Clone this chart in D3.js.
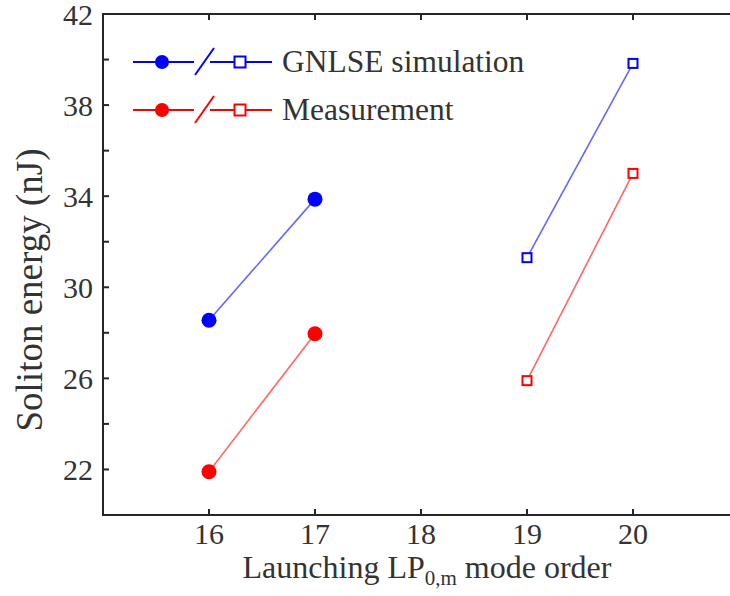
<!DOCTYPE html>
<html>
<head>
<meta charset="utf-8">
<script src="https://cdn.jsdelivr.net/npm/d3@7"></script>
</head>
<body style="margin:0; font-family: 'Times New Roman';">
<svg id="fig" width="730" height="596" style="font-family: 'Times New Roman';"></svg>
<script>
// data
var simCircleX = [16, 17];
var simCircleY = [28.55, 33.87];
var measCircleX = [16, 17];
var measCircleY = [21.9, 27.96];
var simSquareX = [19, 20];
var simSquareY = [31.3, 39.83];
var measSquareX = [19, 20];
var measSquareY = [25.9, 35.0];
var xTicks = [16, 17, 18, 19, 20];
var yTicks = [22, 24, 26, 28, 30, 32, 34, 36, 38, 40, 42];
var yLabels = [22, 26, 30, 34, 38, 42];
var legendNames = ["GNLSE simulation", "Measurement"];
var legendColors = ["#0000ff", "#ff0000"];

var W = 730, H = 596;
var svg = d3.select("#fig");
var x = d3.scaleLinear().domain([15, 21]).range([103, 739]);
var y = d3.scaleLinear().domain([20, 42]).range([515, 14]);

var axisColor = "#262626";
var textColor = "#333333";

function addText(sel, size) {
  return sel.append("text")
    .attr("font-family", "Times New Roman")
    .style("font-family", "'Times New Roman'")
    .attr("font-size", size)
    .attr("fill", textColor);
}

// frame lines (left, bottom, top)
svg.append("line").attr("x1", x(15)).attr("x2", x(15)).attr("y1", y(20)).attr("y2", y(42))
  .attr("stroke", axisColor).attr("stroke-width", 2);
svg.append("line").attr("x1", x(15) - 1).attr("x2", W).attr("y1", y(20)).attr("y2", y(20))
  .attr("stroke", axisColor).attr("stroke-width", 2);
svg.append("line").attr("x1", x(15) - 1).attr("x2", W).attr("y1", y(42)).attr("y2", y(42))
  .attr("stroke", axisColor).attr("stroke-width", 2);

// inward ticks
xTicks.forEach(function(t) {
  svg.append("line").attr("x1", x(t)).attr("x2", x(t)).attr("y1", y(20)).attr("y2", y(20) - 6)
    .attr("stroke", axisColor).attr("stroke-width", 2);
  svg.append("line").attr("x1", x(t)).attr("x2", x(t)).attr("y1", y(42)).attr("y2", y(42) + 6)
    .attr("stroke", axisColor).attr("stroke-width", 2);
  addText(svg, 30).attr("x", x(t)).attr("y", y(20) + 29).attr("text-anchor", "middle").text(t);
});
yTicks.forEach(function(t) {
  svg.append("line").attr("x1", x(15)).attr("x2", x(15) + 6).attr("y1", y(t)).attr("y2", y(t))
    .attr("stroke", axisColor).attr("stroke-width", 2);
});
yLabels.forEach(function(t) {
  addText(svg, 30).attr("x", x(15) - 10).attr("y", y(t) + 11).attr("text-anchor", "end").text(t);
});

// axis titles
addText(svg, 37).attr("transform", "translate(42,290) rotate(-90)")
  .attr("text-anchor", "middle").text("Soliton energy (nJ)");
var xt = addText(svg, 32).attr("x", 427).attr("y", 578).attr("text-anchor", "middle");
xt.append("tspan").text("Launching LP");
xt.append("tspan").attr("font-size", 21).attr("dy", 7).text("0,m");
xt.append("tspan").attr("dy", -7).text(" mode order");

// connecting lines
function drawLine(xs, ys, color) {
  var pts = xs.map(function(v, i) { return [x(v), y(ys[i])]; });
  svg.append("path").attr("d", d3.line()(pts)).attr("fill", "none")
    .attr("stroke", color).attr("stroke-opacity", 0.6).attr("stroke-width", 1.6);
}
drawLine(simCircleX, simCircleY, legendColors[0]);
drawLine(measCircleX, measCircleY, legendColors[1]);
drawLine(simSquareX, simSquareY, legendColors[0]);
drawLine(measSquareX, measSquareY, legendColors[1]);

function drawCircles(xs, ys, color) {
  svg.selectAll(null).data(xs).enter().append("circle")
    .attr("cx", function(d) { return x(d); })
    .attr("cy", function(d, i) { return y(ys[i]); })
    .attr("r", 7.5).attr("fill", color);
}
function drawSquares(xs, ys, color) {
  svg.selectAll(null).data(xs).enter().append("rect")
    .attr("x", function(d) { return x(d) - 4.5; })
    .attr("y", function(d, i) { return y(ys[i]) - 4.5; })
    .attr("width", 9).attr("height", 9)
    .attr("fill", "#fff").attr("stroke", color).attr("stroke-width", 2);
}
drawCircles(simCircleX, simCircleY, legendColors[0]);
drawCircles(measCircleX, measCircleY, legendColors[1]);
drawSquares(simSquareX, simSquareY, legendColors[0]);
drawSquares(measSquareX, measSquareY, legendColors[1]);

// legend
legendNames.forEach(function(name, i) {
  var ly = 62 + i * 48, c = legendColors[i];
  var g = svg.append("g");
  g.append("line").attr("x1", 133).attr("x2", 194).attr("y1", ly).attr("y2", ly).attr("stroke", c).attr("stroke-width", 2);
  g.append("circle").attr("cx", 162).attr("cy", ly).attr("r", 7).attr("fill", c);
  g.append("line").attr("x1", 195).attr("x2", 214).attr("y1", ly + 13).attr("y2", ly - 14).attr("stroke", c).attr("stroke-width", 2);
  g.append("line").attr("x1", 210).attr("x2", 272).attr("y1", ly).attr("y2", ly).attr("stroke", c).attr("stroke-width", 2);
  g.append("rect").attr("x", 234.5).attr("y", ly - 5.5).attr("width", 11).attr("height", 11)
    .attr("fill", "#fff").attr("stroke", c).attr("stroke-width", 2);
  addText(g, 31.5).attr("x", 282).attr("y", ly + 10).text(name);
});
</script>
</body>
</html>
